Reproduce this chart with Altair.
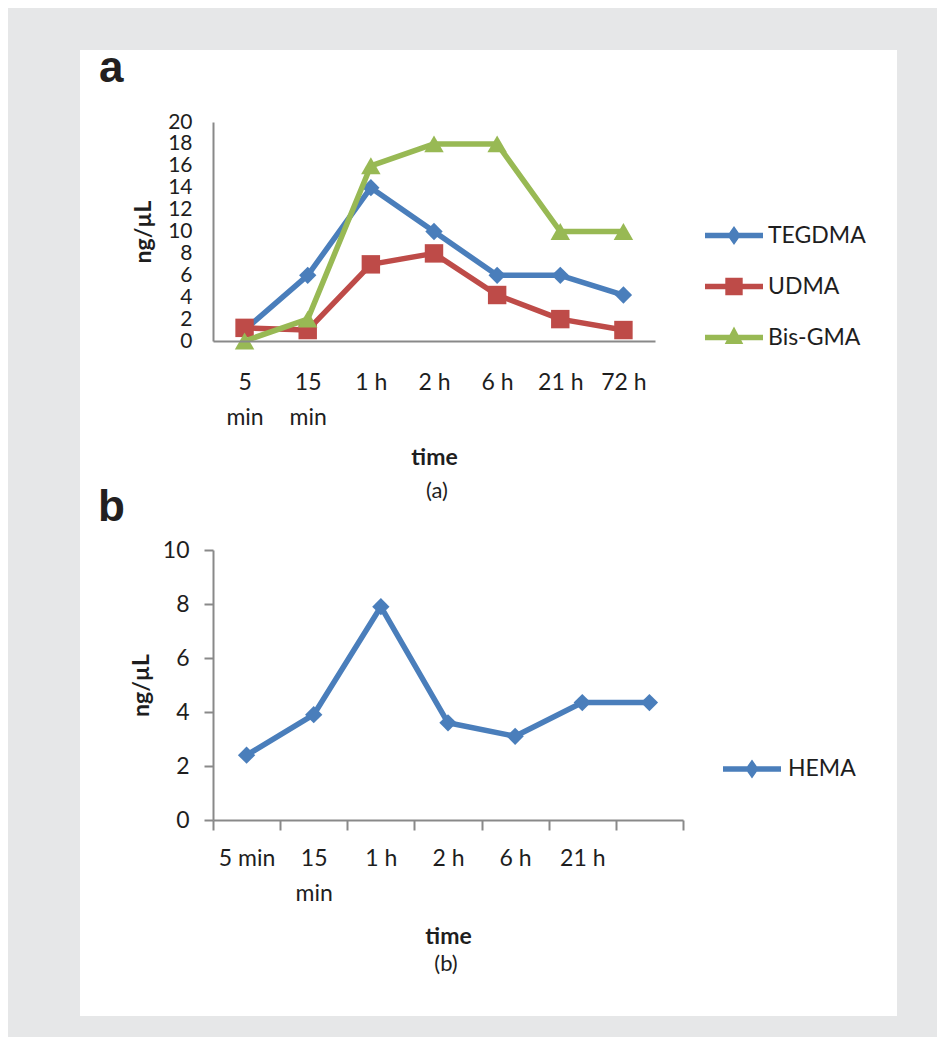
import json
import altair as alt
import pandas as pd

# ---------------- data ----------------
times_a = ["5 min", "15 min", "1 h", "2 h", "6 h", "21 h", "72 h"]
x_labels_a = ["5\nmin", "15\nmin", "1 h", "2 h", "6 h", "21 h", "72 h"]
series_a = ["TEGDMA", "UDMA", "Bis-GMA"]
tegdma = [1.0, 6.0, 14.0, 10.0, 6.0, 6.0, 4.2]
udma = [1.2, 1.0, 7.0, 8.0, 4.2, 2.0, 1.0]
bisgma = [0.0, 2.0, 16.0, 18.0, 18.0, 10.0, 10.0]
y_ticks_a = [0, 2, 4, 6, 8, 10, 12, 14, 16, 18, 20]

times_b = ["5 min", "15 min", "1 h", "2 h", "6 h", "21 h", "72 h"]
x_labels_b = ["5 min", "15\nmin", "1 h", "2 h", "6 h", "21 h", ""]
series_b = ["HEMA"]
hema = [2.4, 3.9, 7.9, 3.6, 3.1, 4.35, 4.35]
y_ticks_b = [0, 2, 4, 6, 8, 10]

# ---------------- styles ----------------
colors_a = ["#4A7EBB", "#BE4B48", "#98B954"]
colors_b = ["#4A7EBB"]
shapes_a = ["diamond", "square", "triangle-up"]
sizes_a = [300, 340, 380]
# legend glyphs: a short thick line with the marker on it (unit box -1..1)
LINE = "M-1,-0.095H1V0.095H-1Z"
legend_paths_a = [
    LINE + "M0,-0.33L0.23,0L0,0.33L-0.23,0Z",
    LINE + "M-0.3,-0.3H0.3V0.3H-0.3Z",
    LINE + "M0,-0.38L0.32,0.22L-0.32,0.22Z",
]
legend_paths_b = [LINE + "M0,-0.33L0.23,0L0,0.33L-0.23,0Z"]

FONT = "Lato"
BG = "#E6E7E8"
AXIS_GRAY = "#898989"
TXT = "#1E1E1E"


def long_df(times, names, values):
    rows = []
    for s, vals in zip(names, values):
        for t, v in zip(times, vals):
            rows.append({"time": t, "series": s, "value": v})
    return pd.DataFrame(rows)


def label_expr(times, labels):
    idx = f"indexof({json.dumps(times)}, datum.value)"
    return f"{idx} < 0 ? '' : split({json.dumps(labels)}[{idx}], '\\n')"


def make_legend(lx, ly, off):
    return alt.Legend(
        title=None, orient="none", legendX=lx, legendY=ly, padding=0,
        symbolSize=3364, clipHeight=51, rowPadding=0, labelOffset=off,
        symbolStrokeWidth=0, symbolOpacity=1, zindex=2,
        labelFont=FONT, labelFontSize=23, labelColor=TXT,
    )


one = pd.DataFrame({"k": [0]})


def build_panel(df, times, xlabels, names, colors, shapes, sizes, legend_paths,
                w, h, ymax, yticks, ylabel_size, xscale, xaxis_extra, yaxis_extra, legend,
                bg_box, title_x, letter, letter_xy, sub, sub_xy):
    x = alt.X("time:N", sort=times, scale=xscale,
              axis=alt.Axis(title="time", labelExpr=label_expr(times, xlabels),
                            labelAngle=0, labelLineHeight=35, labelFont=FONT,
                            labelFontSize=23, labelColor=TXT, domainColor=AXIS_GRAY,
                            domainWidth=2, titleFont=FONT, titleFontSize=23,
                            titleFontWeight="bold", titleColor=TXT, titleY=116,
                            titleBaseline="middle", zindex=1, **xaxis_extra))
    y = alt.Y("value:Q", scale=alt.Scale(domain=[0, ymax], nice=False, zero=True),
              axis=alt.Axis(title="ng/µL", values=yticks, labelOverlap=False, grid=False,
                            labelFont=FONT, labelFontSize=ylabel_size, labelColor=TXT,
                            domainColor=AXIS_GRAY, domainWidth=2,
                            titleFont=FONT, titleFontSize=23, titleFontWeight="bold",
                            titleColor=TXT, titleX=title_x, titleY=h / 2,
                            titleBaseline="middle", zindex=1, **yaxis_extra))
    layers = [alt.Chart(one).mark_rect(color="white").encode(
        x=alt.value(bg_box[0]), x2=alt.value(bg_box[1]),
        y=alt.value(bg_box[2]), y2=alt.value(bg_box[3]))]
    for s, c, shp, sz in zip(names, colors, shapes, sizes):
        base = alt.Chart(df).transform_filter(alt.datum.series == s)
        layers.append(base.mark_line(strokeWidth=5.5, strokeJoin="round", color=c).encode(
            x=x, y=y))
        layers.append(base.mark_point(filled=True, opacity=1, shape=shp, size=sz,
                                      color=c).encode(x=x, y=y))
    # legend-only layer (draws nothing)
    layers.append(alt.Chart(df).transform_filter("false").mark_point(filled=True, opacity=1).encode(
        x=x, y=y,
        color=alt.Color("series:N", scale=alt.Scale(domain=names, range=colors), legend=legend),
        shape=alt.Shape("series:N", scale=alt.Scale(domain=names, range=legend_paths),
                        legend=legend)))
    layers.append(alt.Chart(one).mark_text(font="Liberation Sans", fontWeight="bold",
                                           fontSize=44, align="left", baseline="alphabetic",
                                           color="#231F20").encode(
        x=alt.value(letter_xy[0]), y=alt.value(letter_xy[1]), text=alt.value(letter)))
    layers.append(alt.Chart(one).mark_text(font=FONT, fontSize=22, align="center",
                                           baseline="middle", color=TXT).encode(
        x=alt.value(sub_xy[0]), y=alt.value(sub_xy[1]), text=alt.value(sub)))
    return alt.layer(*layers).properties(width=w, height=h)


# ---------------- panel a ----------------
df_a = long_df(times_a, series_a, [tegdma, udma, bisgma])
panel_a = build_panel(
    df_a, times_a, x_labels_a, series_a, colors_a, shapes_a, sizes_a, legend_paths_a,
    442, 219, 20, y_ticks_a, 21,
    alt.Scale(type="point", domain=times_a, padding=0.5),
    dict(ticks=False, tickSize=0, labelPadding=30),
    dict(ticks=False, tickSize=0, labelPadding=21),
    make_legend(492, 88, 5),
    (-133, 684, -72, 382), -70, "a", (-114, -40), "(a)", (224, 369))

# ---------------- panel b ----------------
df_b = long_df(times_b, series_b, [hema])
panel_b = build_panel(
    df_b, times_b, x_labels_b, series_b, colors_b, ["diamond"], [300], legend_paths_b,
    470, 270, 10, y_ticks_b, 23,
    alt.Scale(type="band", domain=times_b, paddingInner=0, paddingOuter=0),
    dict(ticks=True, tickBand="extent", tickSize=10, tickColor=AXIS_GRAY, tickWidth=2,
         labelPadding=17),
    dict(ticks=True, tickSize=9, tickColor=AXIS_GRAY, tickWidth=2, labelPadding=15),
    make_legend(510, 193.5, 7),
    (-133, 684, -46, 466), -72, "b", (-115, -29), "(b)", (233, 414))

chart = alt.vconcat(panel_a, panel_b, spacing=209, bounds="flush").resolve_scale(
    color="independent", shape="independent", x="independent", y="independent"
).resolve_legend(color="independent", shape="independent").properties(
    padding={"left": 72, "top": 39, "right": 40, "bottom": 21}
).configure(background=BG).configure_view(strokeWidth=0)

chart.save("out.html", embed_options={"renderer": "svg", "actions": False})
